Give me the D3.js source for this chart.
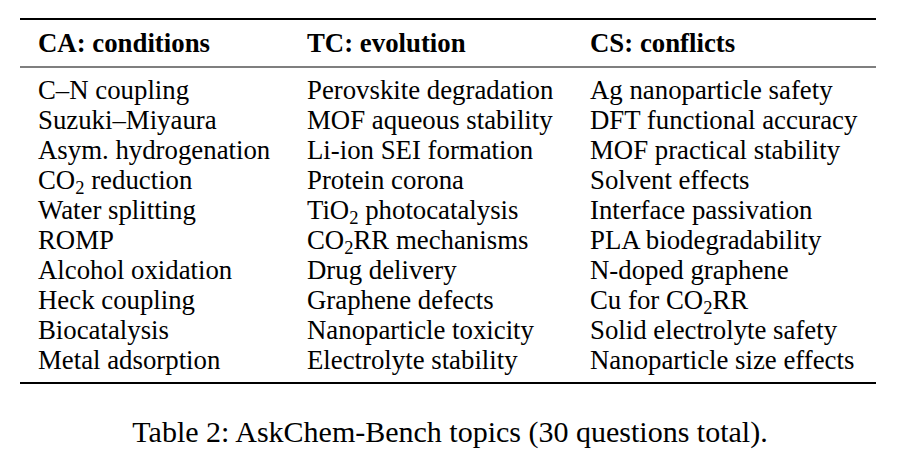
<!DOCTYPE html>
<html><head><meta charset="utf-8">
<script src="https://cdn.jsdelivr.net/npm/d3@7"></script>
<style>body{margin:0;background:#fff}</style></head>
<body><svg id="c" width="899" height="463"></svg>
<script>
const headers = ["CA: conditions", "TC: evolution", "CS: conflicts"];
const colCA = ["C–N coupling","Suzuki–Miyaura","Asym. hydrogenation","CO_2 reduction","Water splitting","ROMP","Alcohol oxidation","Heck coupling","Biocatalysis","Metal adsorption"];
const colTC = ["Perovskite degradation","MOF aqueous stability","Li-ion SEI formation","Protein corona","TiO_2 photocatalysis","CO_2RR mechanisms","Drug delivery","Graphene defects","Nanoparticle toxicity","Electrolyte stability"];
const colCS = ["Ag nanoparticle safety","DFT functional accuracy","MOF practical stability","Solvent effects","Interface passivation","PLA biodegradability","N-doped graphene","Cu for CO_2RR","Solid electrolyte safety","Nanoparticle size effects"];
const caption = "Table 2: AskChem-Bench topics (30 questions total).";

const svg = d3.select("#c");
const font = "'Liberation Serif','Times New Roman',serif";
const x = d3.scaleOrdinal().domain([0,1,2]).range([38,307,590]);
const y = d3.scaleLinear().domain([0,1]).range([99,129]);
const cols = [colCA, colTC, colCS];
const fs = 26.8;

[[19,1.8],[67,1.2],[383,1.8]].forEach(([yy,w])=>svg.append("line").attr("x1",20).attr("x2",876).attr("y1",yy).attr("y2",yy).attr("stroke","#000").attr("stroke-width",w));

headers.forEach((h,i)=>svg.append("text").attr("x",x(i)).attr("y",52).attr("font-family",font).attr("font-weight","bold").attr("font-size",fs).text(h));

function addText(g, s){
  const parts = s.split("_");
  g.append("tspan").text(parts[0]);
  if(parts.length>1){
    g.append("tspan").attr("font-size",18.5).attr("dy",5).text(parts[1][0]);
    g.append("tspan").attr("dy",-5).text(parts[1].slice(1));
  }
}
cols.forEach((col,i)=>col.forEach((s,j)=>{
  const t = svg.append("text").attr("x",x(i)).attr("y",y(j)).attr("font-family",font).attr("font-size",fs);
  addText(t,s);
}));
svg.append("text").attr("x",450).attr("y",442).attr("text-anchor","middle").attr("font-family",font).attr("font-size",30).text(caption);
</script></body></html>
